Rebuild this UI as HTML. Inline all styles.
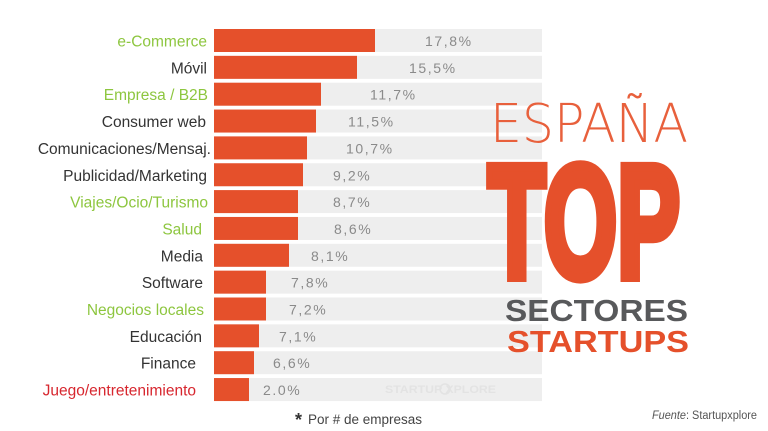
<!DOCTYPE html>
<html><head><meta charset="utf-8"><style>
html,body{margin:0;padding:0;background:#fff;}
svg{display:block;}
.lbl{font-family:"Liberation Sans",sans-serif;font-size:15.5px;text-anchor:end;}
.val{font-family:"Liberation Sans",sans-serif;font-size:14px;fill:#8a8a8a;letter-spacing:1.6px;}
</style></head><body>
<svg width="768" height="431" viewBox="0 0 768 431" xmlns="http://www.w3.org/2000/svg">
<rect width="768" height="431" fill="#fff"/>
<g fill="#eeeeee">
<rect x="214" y="29" width="328" height="23"/>
<rect x="214" y="55.85" width="328" height="23"/>
<rect x="214" y="82.7" width="328" height="23"/>
<rect x="214" y="109.55" width="328" height="23"/>
<rect x="214" y="136.4" width="328" height="23"/>
<rect x="214" y="163.25" width="328" height="23"/>
<rect x="214" y="190.1" width="328" height="23"/>
<rect x="214" y="216.95" width="328" height="23"/>
<rect x="214" y="243.8" width="328" height="23"/>
<rect x="214" y="270.65" width="328" height="23"/>
<rect x="214" y="297.5" width="328" height="23"/>
<rect x="214" y="324.35" width="328" height="23"/>
<rect x="214" y="351.2" width="328" height="23"/>
<rect x="214" y="378.05" width="328" height="23"/>
</g>
<g fill="#e5502b">
<rect x="214" y="29" width="161" height="23"/>
<rect x="214" y="55.85" width="143" height="23"/>
<rect x="214" y="82.7" width="107" height="23"/>
<rect x="214" y="109.55" width="102" height="23"/>
<rect x="214" y="136.4" width="93" height="23"/>
<rect x="214" y="163.25" width="89" height="23"/>
<rect x="214" y="190.1" width="84" height="23"/>
<rect x="214" y="216.95" width="84" height="23"/>
<rect x="214" y="243.8" width="75" height="23"/>
<rect x="214" y="270.65" width="52" height="23"/>
<rect x="214" y="297.5" width="52" height="23"/>
<rect x="214" y="324.35" width="45" height="23"/>
<rect x="214" y="351.2" width="40" height="23"/>
<rect x="214" y="378.05" width="35" height="23"/>
</g>
<g class="lbl">
<text x="207" y="46.5" fill="#8dc63f">e-Commerce</text>
<text x="207" y="73.35" fill="#333">Móvil</text>
<text x="208" y="100.2" fill="#8dc63f">Empresa / B2B</text>
<text x="206" y="127.05" fill="#333">Consumer web</text>
<text x="211" y="153.9" fill="#333">Comunicaciones/Mensaj.</text>
<text x="207" y="180.75" fill="#333">Publicidad/Marketing</text>
<text x="208" y="207.6" fill="#8dc63f">Viajes/Ocio/Turismo</text>
<text x="202" y="234.45" fill="#8dc63f">Salud</text>
<text x="203" y="261.3" fill="#333">Media</text>
<text x="203" y="288.15" fill="#333">Software</text>
<text x="204" y="315" fill="#8dc63f">Negocios locales</text>
<text x="202" y="341.85" fill="#333">Educación</text>
<text x="196" y="368.7" fill="#333">Finance</text>
<text x="196" y="395.55" fill="#d7262e">Juego/entretenimiento</text>
</g>
<g class="val">
<text x="425" y="46">17,8%</text>
<text x="409" y="72.85">15,5%</text>
<text x="370" y="99.7">11,7%</text>
<text x="348" y="126.55">11,5%</text>
<text x="346" y="153.4">10,7%</text>
<text x="333" y="180.25">9,2%</text>
<text x="333" y="207.1">8,7%</text>
<text x="334" y="233.95">8,6%</text>
<text x="311" y="260.8">8,1%</text>
<text x="291" y="287.65">7,8%</text>
<text x="289" y="314.5">7,2%</text>
<text x="279" y="341.35">7,1%</text>
<text x="273" y="368.2">6,6%</text>
<text x="263" y="395.05">2.0%</text>
</g>
<text x="385" y="393" font-family="Liberation Sans,sans-serif" font-size="11" font-weight="bold" fill="#e3e3e3" textLength="111" lengthAdjust="spacingAndGlyphs">STARTUP  XPLORE</text>
<circle cx="445" cy="389" r="5" fill="none" stroke="#e3e3e3" stroke-width="1.5"/>
<text x="490" y="142" font-family="DejaVu Sans,Liberation Sans,sans-serif" font-weight="200" font-size="53.5" fill="#e8603c" textLength="198" lengthAdjust="spacingAndGlyphs">ESPAÑA</text>
<text x="488" y="277" font-family="Liberation Sans,sans-serif" font-weight="bold" font-size="160" fill="#e5502b" stroke="#e5502b" stroke-width="10" stroke-linejoin="miter" textLength="192" lengthAdjust="spacingAndGlyphs">TOP</text>
<text x="505" y="321" font-family="Liberation Sans,sans-serif" font-weight="bold" font-size="31" fill="#58595b" textLength="183" lengthAdjust="spacingAndGlyphs">SECTORES</text>
<text x="507" y="352" font-family="Liberation Sans,sans-serif" font-weight="bold" font-size="31" fill="#e5502b" textLength="182" lengthAdjust="spacingAndGlyphs">STARTUPS</text>
<text x="295" y="426" font-family="Liberation Sans,sans-serif" font-weight="bold" font-size="18" fill="#333">*</text>
<text x="308" y="424" font-family="Liberation Sans,sans-serif" font-size="13.5" fill="#444">Por # de empresas</text>
<text x="652" y="419" font-family="Liberation Sans,sans-serif" font-size="11.5" fill="#555" textLength="105" lengthAdjust="spacingAndGlyphs"><tspan font-style="italic">Fuente</tspan>: Startupxplore</text>
</svg>
</body></html>
